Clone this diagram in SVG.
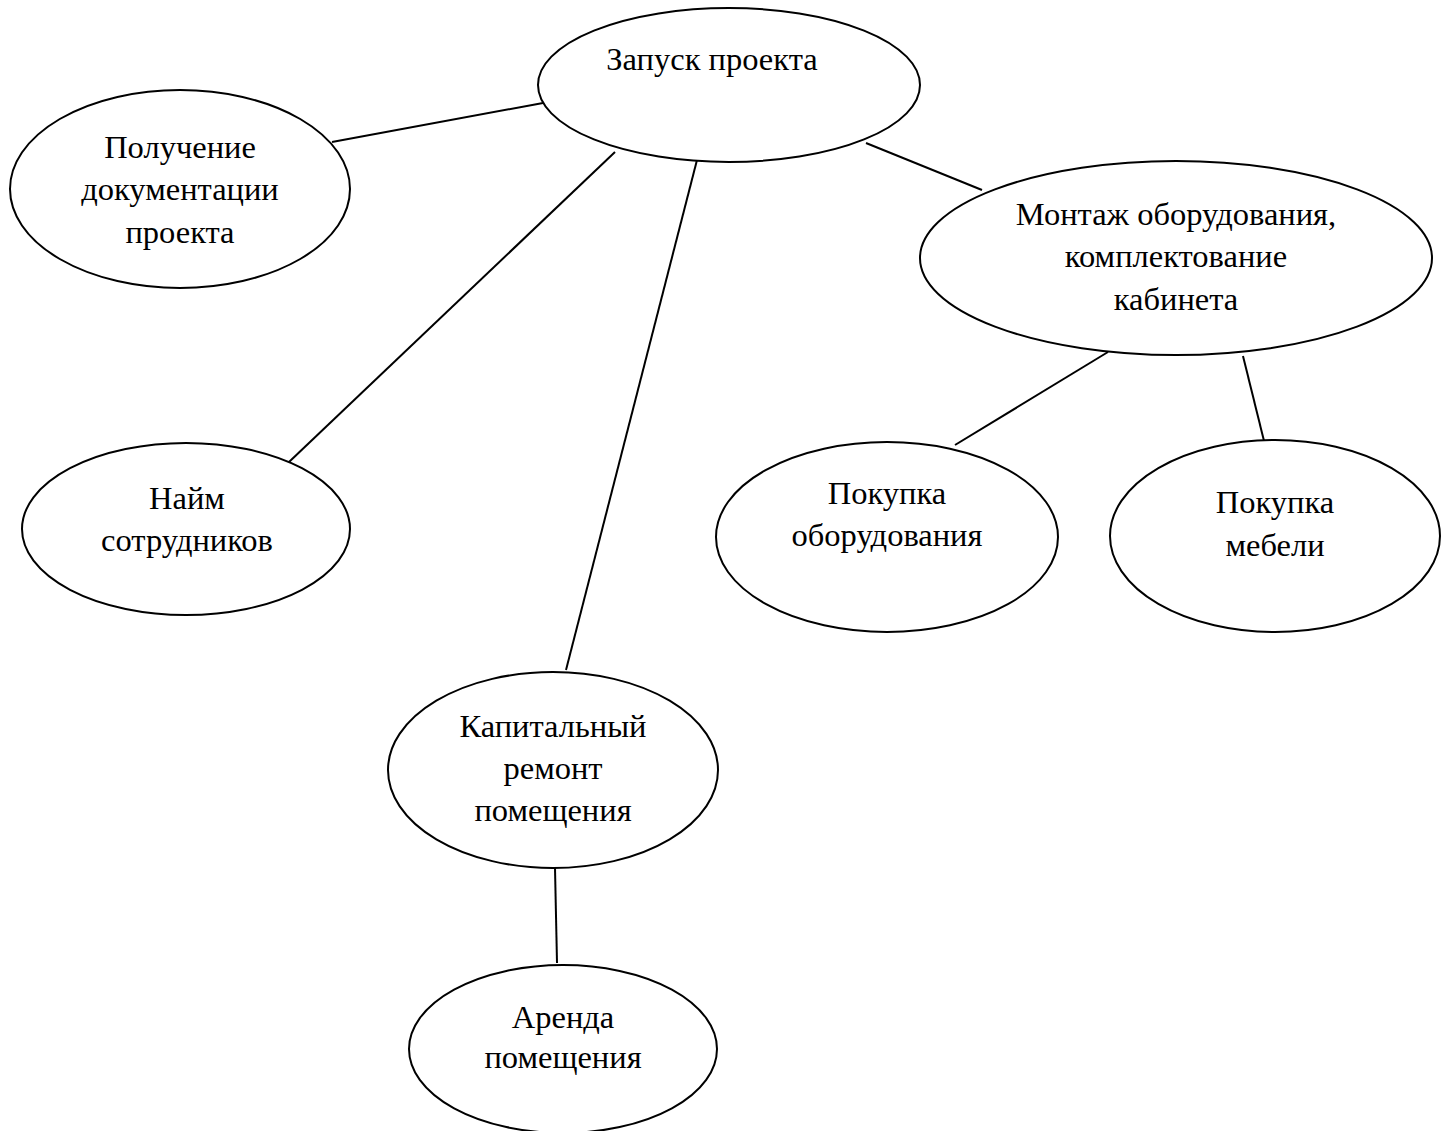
<svg xmlns="http://www.w3.org/2000/svg" width="1451" height="1131" viewBox="0 0 1451 1131">
<style>
.n ellipse{fill:#fff;stroke:#000;stroke-width:2}
.n text{font-family:"Liberation Serif","Times New Roman",serif;font-size:32.5px;fill:#000;text-anchor:middle}
.c line{stroke:#000;stroke-width:2}
</style>
<rect width="1451" height="1131" fill="#fff"/>
<g class="c" id="connectors">
<line x1="332" y1="142" x2="543" y2="103"/>
<line x1="289" y1="462" x2="615" y2="152"/>
<line x1="566" y1="670" x2="697" y2="160"/>
<line x1="866" y1="143" x2="982" y2="190"/>
<line x1="955" y1="445" x2="1108" y2="352"/>
<line x1="1243" y1="356" x2="1266" y2="449"/>
<line x1="555" y1="868" x2="557" y2="963"/>
</g>
<g class="n" id="n-start">
<ellipse cx="729" cy="85" rx="191" ry="77"/>
<text x="712" y="70">Запуск проекта</text>
</g>
<g class="n" id="n-docs">
<ellipse cx="180" cy="189" rx="170" ry="99"/>
<text x="180" y="158">Получение</text>
<text x="180" y="200">документации</text>
<text x="180" y="243">проекта</text>
</g>
<g class="n" id="n-mount">
<ellipse cx="1176" cy="258" rx="256" ry="97"/>
<text x="1176" y="225">Монтаж оборудования,</text>
<text x="1176" y="267">комплектование</text>
<text x="1176" y="310">кабинета</text>
</g>
<g class="n" id="n-hire">
<ellipse cx="186" cy="529" rx="164" ry="86"/>
<text x="187" y="509">Найм</text>
<text x="187" y="551">сотрудников</text>
</g>
<g class="n" id="n-equip">
<ellipse cx="887" cy="537" rx="171" ry="95"/>
<text x="887" y="504">Покупка</text>
<text x="887" y="546">оборудования</text>
</g>
<g class="n" id="n-furn">
<ellipse cx="1275" cy="536" rx="165" ry="96"/>
<text x="1275" y="513">Покупка</text>
<text x="1275" y="556">мебели</text>
</g>
<g class="n" id="n-repair">
<ellipse cx="553" cy="770" rx="165" ry="98"/>
<text x="553" y="737">Капитальный</text>
<text x="553" y="779">ремонт</text>
<text x="553" y="821">помещения</text>
</g>
<g class="n" id="n-rent">
<ellipse cx="563" cy="1049" rx="154" ry="84"/>
<text x="563" y="1028">Аренда</text>
<text x="563" y="1068">помещения</text>
</g>
</svg>
